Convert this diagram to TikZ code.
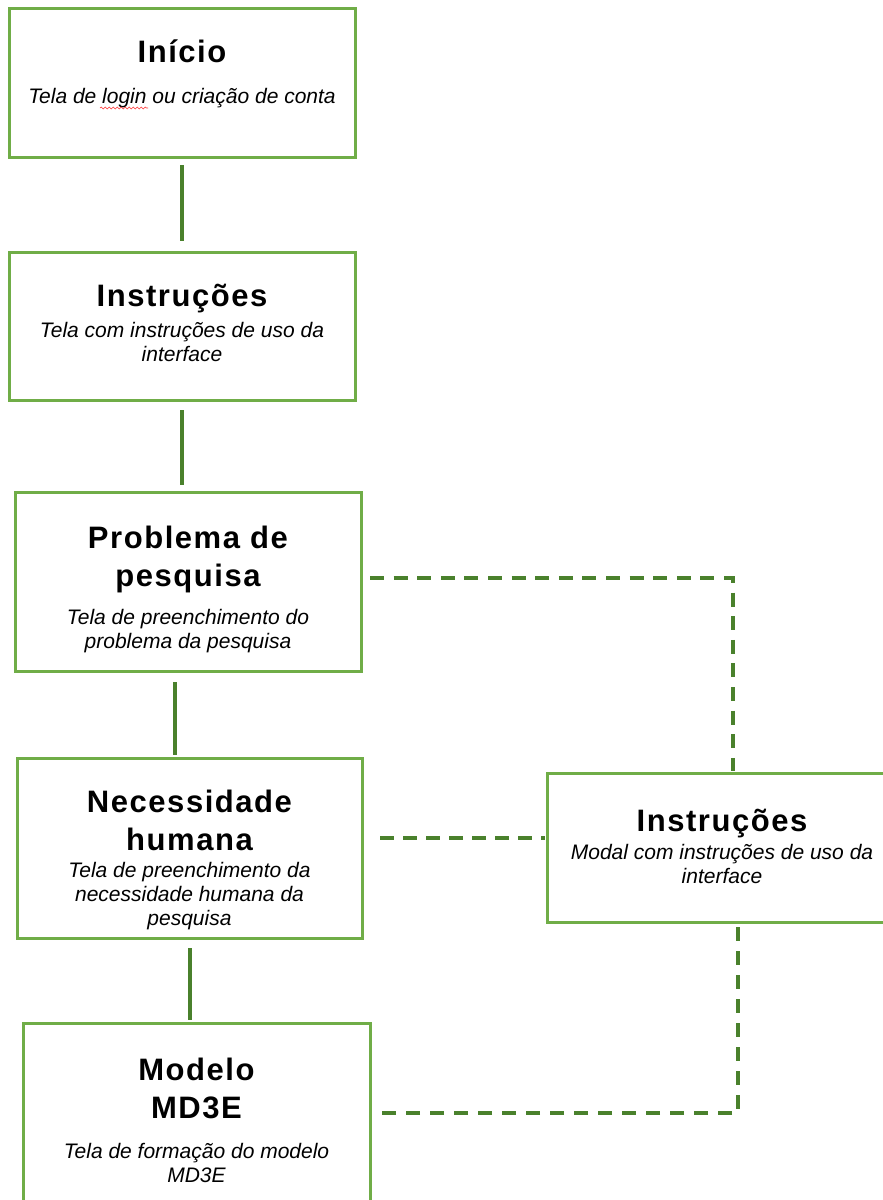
\documentclass[tikz,border=0pt]{standalone}
\usepackage{fontspec}
\setmainfont{Liberation Sans}
\newfontfamily\headfont[LetterSpace=5]{Liberation Sans}
\usetikzlibrary{calc,decorations.pathmorphing}

\definecolor{boxgreen}{HTML}{70AD47}
\definecolor{linkgreen}{HTML}{4A812C}

% text nodes are placed by the baseline of their last line
\tikzset{
  screen/.style={draw=boxgreen, line width=3pt, fill=white, rectangle,
    inner sep=0pt, outer sep=0pt},
  head/.style={anchor=base, align=center, inner sep=0pt,
    font={\headfont\bfseries\fontsize{31}{38}\selectfont}},
  desc/.style={anchor=base, align=center, inner sep=0pt,
    font={\itshape\fontsize{21}{24}\selectfont}},
  flow/.style={draw=linkgreen, line width=3.5pt},
  aside/.style={draw=linkgreen, line width=3.5pt, dash pattern=on 14pt off 10pt},
}

\begin{document}
\begin{tikzpicture}[x=1pt, y=-1pt]
\useasboundingbox (0,0) rectangle (883,1200);
\clip (0,0) rectangle (883,1200);

% screens of the main flow
\node[screen, minimum width=346pt, minimum height=149pt] (inicio) at (182,82.5) {};
\node[screen, minimum width=346pt, minimum height=148pt] (instr) at (182,326) {};
\node[screen, minimum width=346pt, minimum height=179pt] (problema) at (188,581.5) {};
\node[screen, minimum width=345pt, minimum height=180pt] (necess) at (189.5,848) {};
\node[screen, minimum width=347pt, minimum height=180pt] (modelo) at (196.5,1113) {};
% modal window on the side
\node[screen, minimum width=350pt, minimum height=149pt] (modal) at (722,847.5) {};

% titles and descriptions
\node[head] (tInicio) at (182,62) {Início};
\node[desc] (dInicio) at (182,103) {Tela de login ou criação de conta};
\draw[red!80, line width=0.6pt, decorate,
  decoration={snake, amplitude=0.9pt, segment length=4pt}] (100,108) -- (148,108);

\node[head] (tInstr) at (182,306) {Instruções};
\node[desc] (dInstr) at (182,361) {Tela com instruções de uso da\\interface};

\node[head] (tProblema) at (188,586) {Problema de\\pesquisa};
\node[desc] (dProblema) at (188,648) {Tela de preenchimento do\\problema da pesquisa};

\node[head] (tNecess) at (189.5,850) {Necessidade\\humana};
\node[desc] (dNecess) at (189.5,925) {Tela de preenchimento da\\necessidade humana da\\pesquisa};

\node[head] (tModelo) at (196.5,1118) {Modelo\\MD3E};
\node[desc] (dModelo) at (196.5,1182) {Tela de formação do modelo\\MD3E};

\node[head] (tModal) at (722,831) {Instruções};
\node[desc] (dModal) at (722,883) {Modal com instruções de uso da\\interface};

% end points of the connectors, just off the box borders
\coordinate (s1) at ($(inicio.south)+(0,8)$);
\coordinate (e1) at ($(instr.north)+(0,-11)$);
\coordinate (s2) at ($(instr.south)+(0,10)$);
\coordinate (e2) at ($(problema.north)+(0,-7)$);
\coordinate (s3) at ($(problema.south)+(-13,11)$);
\coordinate (e3) at ($(necess.north)+(0,-3)$);
\coordinate (s4) at ($(necess.south)+(0.5,10)$);
\coordinate (e4) at ($(modelo.north)+(0,-3)$);

% main sequence
\draw[flow] (s1) -- (s1 |- e1);
\draw[flow] (s2) -- (s2 |- e2);
\draw[flow] (s3) -- (s3 |- e3);
\draw[flow] (s4) -- (s4 |- e4);

% links to the modal
\coordinate (m1) at ($(problema.east)+(9,-3.5)$);
\coordinate (m1e) at ($(modal.north)+(11,-2)$);
\coordinate (m2) at ($(necess.east)+(18,-10)$);
\coordinate (m2e) at ($(modal.west)+(-2,-9.5)$);
\coordinate (m3) at ($(modal.south)+(16,5)$);
\coordinate (m3e) at ($(modelo.east)+(8,0)$);
\draw[aside, dash pattern=on 14pt off 9.6pt] (m1) -| (m1e);
\draw[aside, dash pattern=on 14pt off 9pt] (m2) -- (m2 -| m2e);
\draw[aside] (m3) |- (m3e);
\end{tikzpicture}
\end{document}
